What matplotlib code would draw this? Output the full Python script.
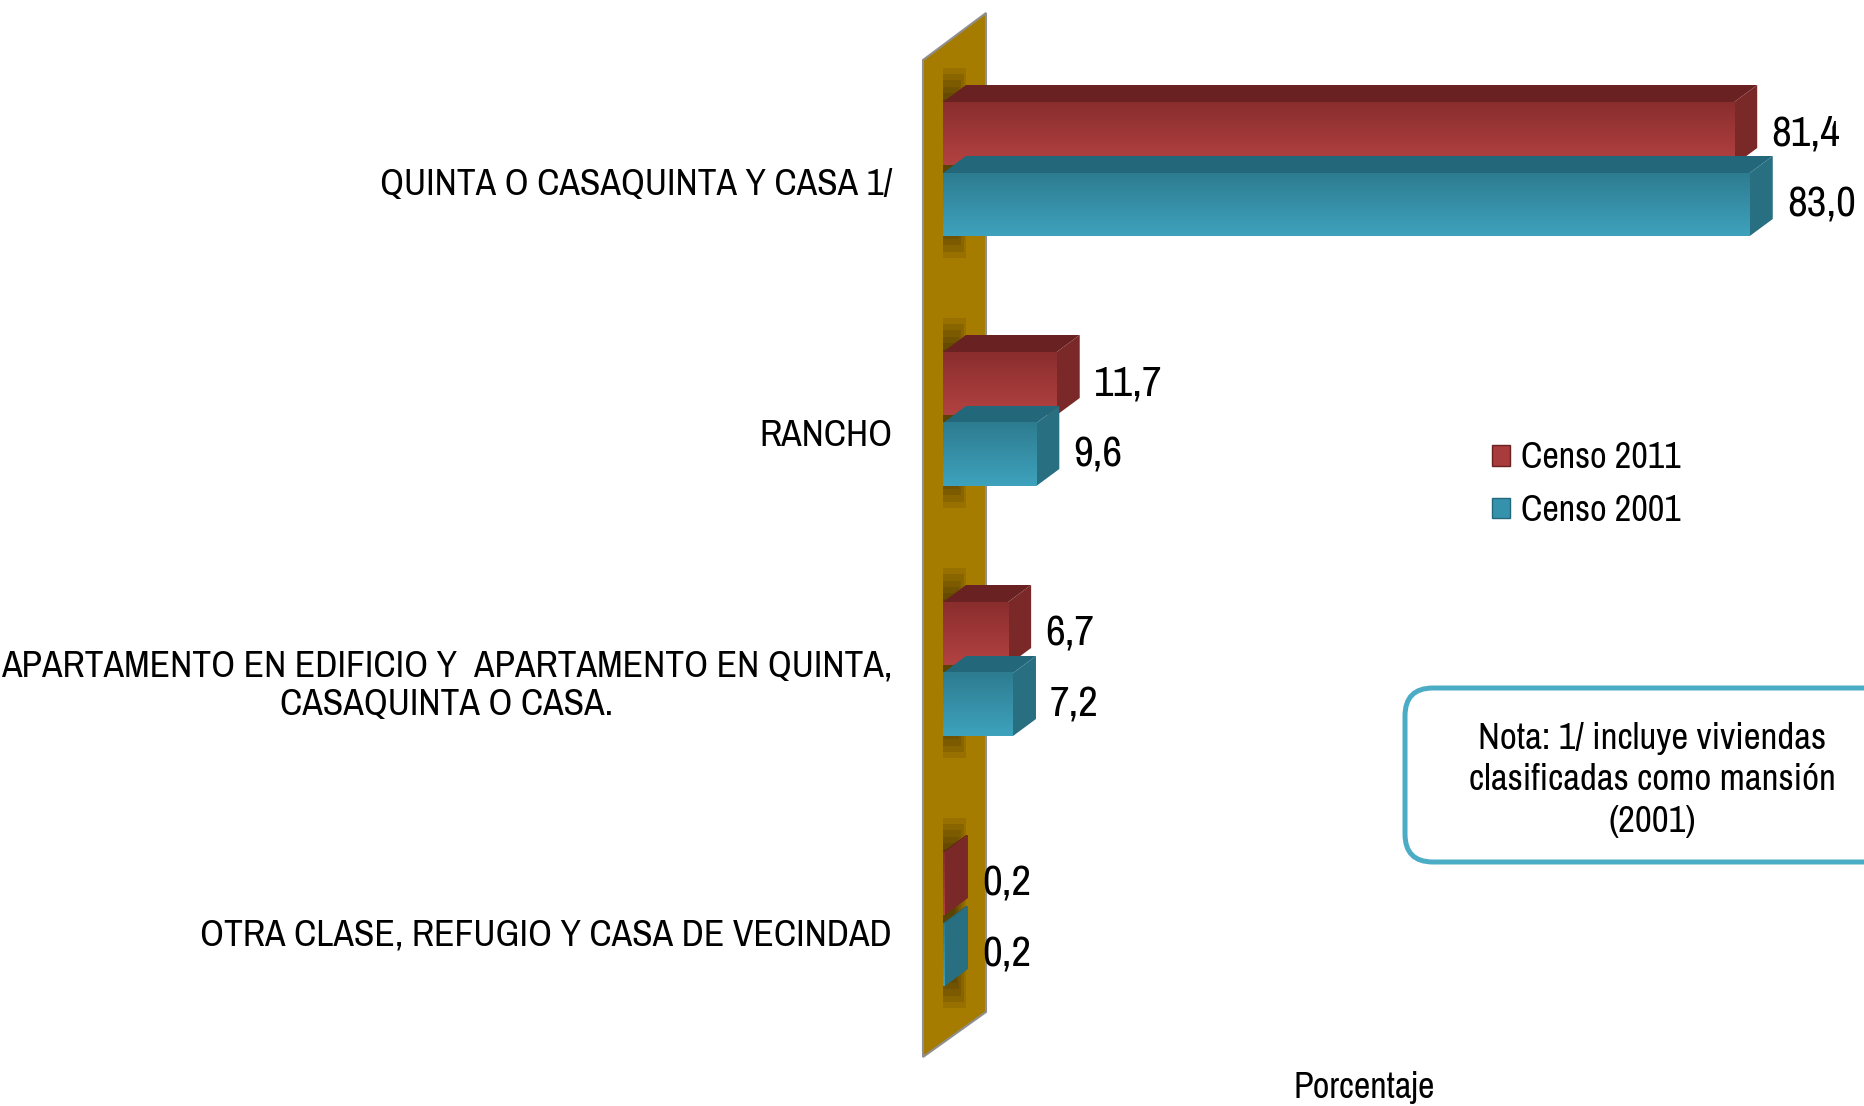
import numpy as np
import matplotlib
matplotlib.use("Agg")
import matplotlib.pyplot as plt
from matplotlib import font_manager
from matplotlib.patches import Polygon, Rectangle, FancyBboxPatch, Patch
from matplotlib.transforms import IdentityTransform, blended_transform_factory
from matplotlib.colors import LinearSegmentedColormap

# ---------------- data ----------------
categories = [
    "QUINTA O CASAQUINTA Y CASA 1/",
    "RANCHO",
    "APARTAMENTO EN EDIFICIO Y  APARTAMENTO EN QUINTA,\nCASAQUINTA O CASA.",
    "OTRA CLASE, REFUGIO Y CASA DE VECINDAD",
]
censo_2011 = [81.4, 11.7, 6.7, 0.2]
censo_2001 = [83.0, 9.6, 7.2, 0.2]
series_names = ["Censo 2011", "Censo 2001"]
xlabel = "Porcentaje"
note = "Nota: 1/ incluye viviendas\nclasificadas como mansión\n(2001)"

# ---------------- fonts ----------------
names = {f.name for f in font_manager.fontManager.ttflist}
FONT = "Liberation Sans"
for cand in ["Liberation Sans Narrow", "Arial Narrow", "Archivo Narrow", "PT Sans Narrow",
             "Roboto Condensed", "Sofia Sans Semi Condensed", "Open Sans Condensed"]:
    if cand in names:
        FONT = cand
        break
plt.rcParams["font.family"] = [FONT, "DejaVu Sans"]

W, H = 1864, 1106
fig = plt.figure(figsize=(W / 100, H / 100), dpi=100)
fig.patch.set_facecolor("white")

def F(px, py):
    return (px / W, 1 - py / H)

# axes: data x=0 at pixel 943, 9.72 px per unit; categories 250 px apart from y=168
x0_px, px_per_unit = 943, 9.72
c0_px, cat_px = 168, 250
ax = fig.add_axes([x0_px / W, 0, 1 - x0_px / W, 1])
ax.axis("off")
ax.patch.set_visible(False)

# back wall
wall = Polygon([F(923, 60), F(986, 13), F(986, 1012), F(923, 1057)], closed=True,
               transform=fig.transFigure, facecolor="#A67C00", edgecolor="#8f8f8f",
               linewidth=1.5, zorder=-1)
fig.add_artist(wall)

dx = 23 / px_per_unit     # 3D depth (x)
dy = 17 / cat_px          # 3D depth (y)
h = 0.252

styles = {
    0: dict(top="#6a2121", side="#7b2828", c1="#8a2d2d", c2="#b34242"),
    1: dict(top="#22677a", side="#286f82", c1="#2d7c90", c2="#3ea2bd"),
}

def bar3d(v, ytop, st, z):
    ybot = ytop + h
    ax.add_patch(Polygon([(0, ytop), (v, ytop), (v + dx, ytop - dy), (dx, ytop - dy)],
                         closed=True, facecolor=st["top"], edgecolor="none", zorder=z))
    ax.add_patch(Polygon([(v, ytop), (v + dx, ytop - dy), (v + dx, ybot - dy), (v, ybot)],
                         closed=True, facecolor=st["side"], edgecolor="none", zorder=z))
    cmap = LinearSegmentedColormap.from_list("g", [st["c1"], st["c2"]])
    grad = np.linspace(0, 1, 64).reshape(-1, 1)
    ax.imshow(grad, cmap=cmap, extent=(0, max(v, 0.05), ybot, ytop), origin="upper",
              aspect="auto", zorder=z + 0.01, interpolation="bilinear")

for i, (v1, v2) in enumerate(zip(censo_2011, censo_2001)):
    c = i
    for k in range(6):
        ax.add_patch(Rectangle((0, c - 0.40 + k * 0.025), dx * (1 - k * 0.1), 0.76 - k * 0.05,
                               facecolor="black", alpha=0.09, edgecolor="none", zorder=1))
    red_top = c - 66 / cat_px
    blue_top = c + 5 / cat_px
    bar3d(v1, red_top, styles[0], 2)
    bar3d(v2, blue_top, styles[1], 3)
    for v, yt in ((v1, red_top), (v2, blue_top)):
        ax.annotate(f"{v:.1f}".replace(".", ","), xy=(v + dx, yt + h / 2),
                    xytext=(14, 0), textcoords="offset pixels",
                    ha="left", va="center", fontsize=31, color="black", zorder=5)

ax.set_xlim(0, (W - x0_px) / px_per_unit)
ax.set_ylim((H - c0_px) / cat_px, -c0_px / cat_px)

# category labels
tr = blended_transform_factory(fig.transFigure, ax.transData)
for i, lab in enumerate(categories):
    ax.text(892 / W, i + 17 / cat_px, lab, transform=tr, ha="right", va="center",
            multialignment="center", fontsize=27, color="black", linespacing=1.2)

# legend
handles = [Patch(facecolor="#a83b3b", edgecolor="#6a2121"),
           Patch(facecolor="#3592ad", edgecolor="#22677a")]
fig.legend(handles, series_names, loc="center left", bbox_to_anchor=F(1492, 484),
           frameon=False, fontsize=26, handlelength=0.5, handleheight=0.5,
           handletextpad=0.3, labelspacing=0.55, borderpad=0, borderaxespad=0)

# note box
box = FancyBboxPatch((1405, H - 862), 560, 862 - 688, boxstyle="round,pad=0,rounding_size=28",
                     transform=IdentityTransform(), facecolor="white", edgecolor="#4bacc6",
                     linewidth=3.6, clip_on=False)
fig.add_artist(box)
fig.text(*F(1652, 780), note, ha="center", va="center", multialignment="center",
         fontsize=26.5, linespacing=1.3)

fig.text(*F(1364, 1087), xlabel, ha="center", va="center", fontsize=26)

fig.savefig("out.png", dpi=100)
